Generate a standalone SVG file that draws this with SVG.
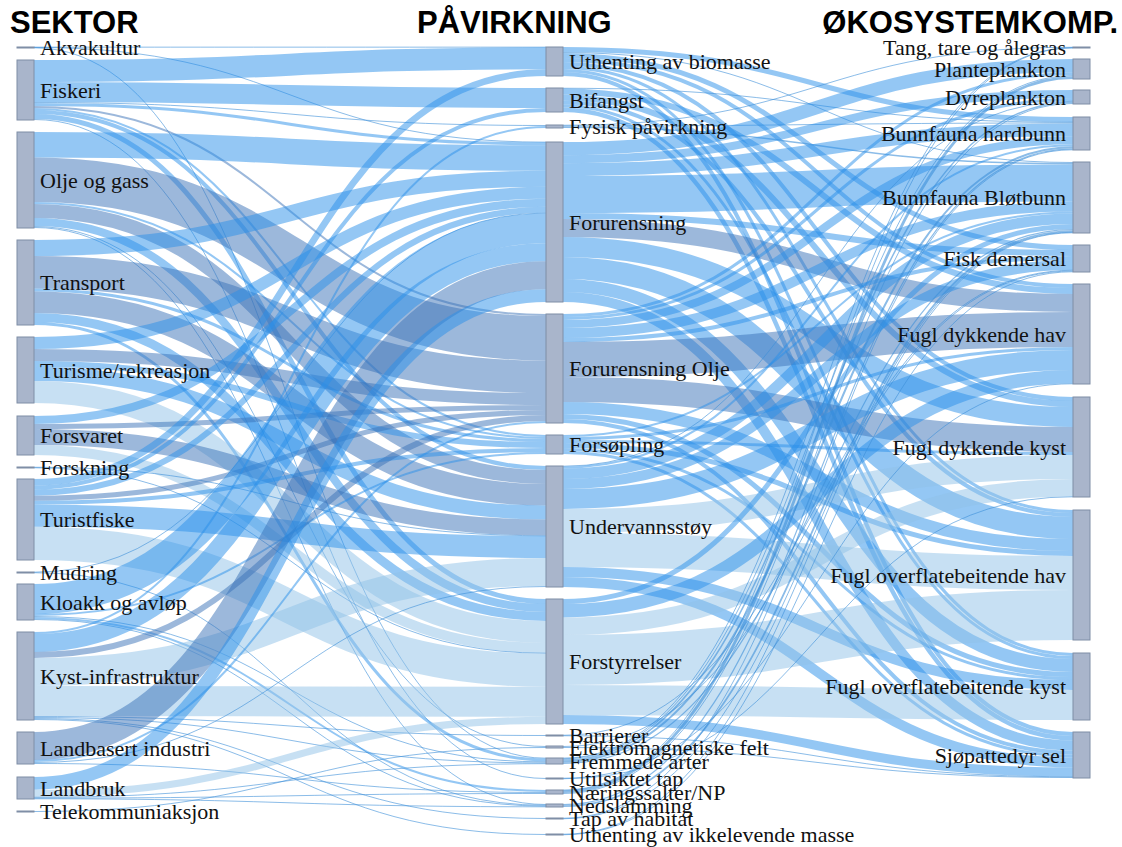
<svg xmlns="http://www.w3.org/2000/svg" width="1122" height="847" viewBox="0 0 1122 847">
<style>
.n rect{fill:#a9b5cb;stroke:#7f8ea6;stroke-width:1}
#links path{fill:none}
.a{stroke:#2a90ea;stroke-opacity:.5}
.b{stroke:#3a72b8;stroke-opacity:.5}
.c{stroke:#8fc2e8;stroke-opacity:.5}
.t{stroke:#3d8fd8;stroke-opacity:.6}
.lb{font-family:"Liberation Serif","Times New Roman",serif;font-size:22px;fill:#111}
.r{text-anchor:end}
.h{font-family:"Liberation Sans",Arial,sans-serif;font-weight:bold;font-size:31px;fill:#000}
</style>
<rect width="1122" height="847" fill="#fff"/>
<g id="links">
<path class="t" stroke-width="1" d="M34,47.15C290,47.15 290,47.15 546,47.15"/>
<path class="t" stroke-width="1" d="M34,47.45C290,47.45 290,142.15 546,142.15"/>
<path class="t" stroke-width="1" d="M34,47.8C290,47.8 290,758.2 546,758.2"/>
<path class="a" stroke-width="22" d="M34,71C290,71 290,58.3 546,58.3"/>
<path class="a" stroke-width="20" d="M34,92C290,92 290,98 546,98"/>
<path class="t" stroke-width="1" d="M34,102.5C290,102.5 290,125.5 546,125.5"/>
<path class="a" stroke-width="3" d="M34,104.5C290,104.5 290,143.8 546,143.8"/>
<path class="b" stroke-width="2" d="M34,107C290,107 290,315 546,315"/>
<path class="a" stroke-width="2" d="M34,109C290,109 290,436 546,436"/>
<path class="a" stroke-width="4" d="M34,112C290,112 290,468 546,468"/>
<path class="a" stroke-width="5" d="M34,116.5C290,116.5 290,601.5 546,601.5"/>
<path class="t" stroke-width="1" d="M34,119.5C290,119.5 290,778.5 546,778.5"/>
<path class="a" stroke-width="25.5" d="M34,144.75C290,144.75 290,158.05 546,158.05"/>
<path class="b" stroke-width="44.5" d="M34,179.75C290,179.75 290,338.25 546,338.25"/>
<path class="a" stroke-width="2" d="M34,203C290,203 290,438 546,438"/>
<path class="b" stroke-width="14" d="M34,211C290,211 290,477 546,477"/>
<path class="a" stroke-width="8" d="M34,222C290,222 290,608 546,608"/>
<path class="t" stroke-width="1" d="M34,226.5C290,226.5 290,746.5 546,746.5"/>
<path class="t" stroke-width="1" d="M34,227.5C290,227.5 290,804.5 546,804.5"/>
<path class="a" stroke-width="16" d="M34,248C290,248 290,178.8 546,178.8"/>
<path class="b" stroke-width="32.5" d="M34,272.25C290,272.25 290,376.75 546,376.75"/>
<path class="a" stroke-width="3" d="M34,290C290,290 290,440.5 546,440.5"/>
<path class="b" stroke-width="21.5" d="M34,302.25C290,302.25 290,494.75 546,494.75"/>
<path class="a" stroke-width="9" d="M34,317.5C290,317.5 290,616.5 546,616.5"/>
<path class="a" stroke-width="3" d="M34,323.5C290,323.5 290,759.9 546,759.9"/>
<path class="a" stroke-width="12" d="M34,343C290,343 290,192.8 546,192.8"/>
<path class="b" stroke-width="12" d="M34,355C290,355 290,399 546,399"/>
<path class="a" stroke-width="6" d="M34,364C290,364 290,445 546,445"/>
<path class="a" stroke-width="14" d="M34,374C290,374 290,512.5 546,512.5"/>
<path class="c" stroke-width="22" d="M34,392C290,392 290,632 546,632"/>
<path class="a" stroke-width="8" d="M34,420C290,420 290,202.8 546,202.8"/>
<path class="b" stroke-width="5" d="M34,426.5C290,426.5 290,407.5 546,407.5"/>
<path class="b" stroke-width="16" d="M34,437C290,437 290,527.5 546,527.5"/>
<path class="c" stroke-width="10" d="M34,450C290,450 290,648 546,648"/>
<path class="t" stroke-width="1" d="M34,467.25C290,467.25 290,535.75 546,535.75"/>
<path class="t" stroke-width="1" d="M34,467.75C290,467.75 290,653.25 546,653.25"/>
<path class="a" stroke-width="6.7" d="M34,482.35C290,482.35 290,72.65 546,72.65"/>
<path class="a" stroke-width="4" d="M34,487.7C290,487.7 290,110 546,110"/>
<path class="a" stroke-width="6" d="M34,492.7C290,492.7 290,209.8 546,209.8"/>
<path class="b" stroke-width="5" d="M34,498.2C290,498.2 290,412.5 546,412.5"/>
<path class="a" stroke-width="4" d="M34,502.7C290,502.7 290,450 546,450"/>
<path class="a" stroke-width="22" d="M34,515.7C290,515.7 290,547 546,547"/>
<path class="c" stroke-width="33.3" d="M34,543.35C290,543.35 290,670.15 546,670.15"/>
<path class="t" stroke-width="1" d="M34,572.2C290,572.2 290,213 546,213"/>
<path class="t" stroke-width="1" d="M34,572.7C290,572.7 290,805.3 546,805.3"/>
<path class="a" stroke-width="30" d="M34,599C290,599 290,228.2 546,228.2"/>
<path class="a" stroke-width="2" d="M34,615C290,615 290,453 546,453"/>
<path class="t" stroke-width="1" d="M34,616.5C290,616.5 290,761.9 546,761.9"/>
<path class="a" stroke-width="2" d="M34,618C290,618 290,791 546,791"/>
<path class="t" stroke-width="1" d="M34,619.5C290,619.5 290,806.1 546,806.1"/>
<path class="a" stroke-width="2" d="M34,633C290,633 290,127 546,127"/>
<path class="a" stroke-width="18" d="M34,643C290,643 290,252.2 546,252.2"/>
<path class="b" stroke-width="6" d="M34,655C290,655 290,418 546,418"/>
<path class="c" stroke-width="28" d="M34,672C290,672 290,572 546,572"/>
<path class="c" stroke-width="30" d="M34,701C290,701 290,701.8 546,701.8"/>
<path class="t" stroke-width="1" d="M34,716.5C290,716.5 290,735.5 546,735.5"/>
<path class="t" stroke-width="1" d="M34,717.5C290,717.5 290,762.9 546,762.9"/>
<path class="t" stroke-width="1" d="M34,718.5C290,718.5 290,818.5 546,818.5"/>
<path class="t" stroke-width="1" d="M34,719.5C290,719.5 290,834.5 546,834.5"/>
<path class="b" stroke-width="28" d="M34,746C290,746 290,275.2 546,275.2"/>
<path class="a" stroke-width="2" d="M34,761C290,761 290,422 546,422"/>
<path class="t" stroke-width="1" d="M34,762.5C290,762.5 290,586.5 546,586.5"/>
<path class="t" stroke-width="1" d="M34,763.5C290,763.5 290,792.5 546,792.5"/>
<path class="a" stroke-width="12.8" d="M34,783.4C290,783.4 290,295.6 546,295.6"/>
<path class="c" stroke-width="7.2" d="M34,793.4C290,793.4 290,720.4 546,720.4"/>
<path class="t" stroke-width="1" d="M34,797.3C290,797.3 290,763.7 546,763.7"/>
<path class="t" stroke-width="1" d="M34,798.1C290,798.1 290,793.5 546,793.5"/>
<path class="t" stroke-width="1" d="M34,798.8C290,798.8 290,806.8 546,806.8"/>
<path class="t" stroke-width="1" d="M34,811.5C290,811.5 290,747.5 546,747.5"/>

<path class="a" stroke-width="5" d="M563,49.5C818,49.5 818,119.5 1073,119.5"/>
<path class="t" stroke-width="1" d="M563,52.5C818,52.5 818,162.5 1073,162.5"/>
<path class="a" stroke-width="5" d="M563,55.5C818,55.5 818,247.5 1073,247.5"/>
<path class="a" stroke-width="4" d="M563,60C818,60 818,286 1073,286"/>
<path class="a" stroke-width="4" d="M563,64C818,64 818,399 1073,399"/>
<path class="a" stroke-width="3" d="M563,67.5C818,67.5 818,511.5 1073,511.5"/>
<path class="a" stroke-width="3" d="M563,70.5C818,70.5 818,654.5 1073,654.5"/>
<path class="a" stroke-width="4" d="M563,74C818,74 818,734 1073,734"/>
<path class="t" stroke-width="1" d="M563,88.25C818,88.25 818,122.25 1073,122.25"/>
<path class="a" stroke-width="6" d="M563,91.5C818,91.5 818,291 1073,291"/>
<path class="a" stroke-width="6" d="M563,97.5C818,97.5 818,404 1073,404"/>
<path class="a" stroke-width="4" d="M563,102.5C818,102.5 818,515 1073,515"/>
<path class="a" stroke-width="3" d="M563,106C818,106 818,657.5 1073,657.5"/>
<path class="a" stroke-width="4.5" d="M563,109.75C818,109.75 818,738.25 1073,738.25"/>
<path class="t" stroke-width="1" d="M563,125.25C818,125.25 818,47.25 1073,47.25"/>
<path class="t" stroke-width="1" d="M563,126C818,126 818,123 1073,123"/>
<path class="t" stroke-width="1.5" d="M563,127.25C818,127.25 818,163.75 1073,163.75"/>
<path class="a" stroke-width="13.2" d="M563,148.6C818,148.6 818,65.6 1073,65.6"/>
<path class="a" stroke-width="8" d="M563,159.2C818,159.2 818,94 1073,94"/>
<path class="a" stroke-width="12.8" d="M563,169.6C818,169.6 818,129.9 1073,129.9"/>
<path class="a" stroke-width="37" d="M563,194.5C818,194.5 818,183 1073,183"/>
<path class="a" stroke-width="6" d="M563,216C818,216 818,253 1073,253"/>
<path class="b" stroke-width="18" d="M563,228C818,228 818,303 1073,303"/>
<path class="a" stroke-width="20" d="M563,247C818,247 818,417 1073,417"/>
<path class="a" stroke-width="22" d="M563,268C818,268 818,528 1073,528"/>
<path class="a" stroke-width="13" d="M563,285.5C818,285.5 818,665.5 1073,665.5"/>
<path class="a" stroke-width="10" d="M563,297C818,297 818,745.5 1073,745.5"/>
<path class="a" stroke-width="3" d="M563,315.5C818,315.5 818,73.7 1073,73.7"/>
<path class="a" stroke-width="3" d="M563,318.5C818,318.5 818,99.5 1073,99.5"/>
<path class="a" stroke-width="8" d="M563,324C818,324 818,140.3 1073,140.3"/>
<path class="a" stroke-width="10" d="M563,333C818,333 818,206.5 1073,206.5"/>
<path class="a" stroke-width="4" d="M563,340C818,340 818,258 1073,258"/>
<path class="b" stroke-width="35" d="M563,359.5C818,359.5 818,329.5 1073,329.5"/>
<path class="b" stroke-width="25" d="M563,389.5C818,389.5 818,439.5 1073,439.5"/>
<path class="a" stroke-width="12" d="M563,408C818,408 818,545 1073,545"/>
<path class="a" stroke-width="5" d="M563,416.5C818,416.5 818,674.5 1073,674.5"/>
<path class="a" stroke-width="4" d="M563,421C818,421 818,752.5 1073,752.5"/>
<path class="a" stroke-width="2" d="M563,436C818,436 818,212.5 1073,212.5"/>
<path class="a" stroke-width="3" d="M563,438.5C818,438.5 818,348.5 1073,348.5"/>
<path class="a" stroke-width="3" d="M563,441.5C818,441.5 818,453.5 1073,453.5"/>
<path class="a" stroke-width="5" d="M563,445.5C818,445.5 818,553.5 1073,553.5"/>
<path class="a" stroke-width="3" d="M563,449.5C818,449.5 818,678.5 1073,678.5"/>
<path class="a" stroke-width="3" d="M563,452.5C818,452.5 818,756 1073,756"/>
<path class="t" stroke-width="1" d="M563,466.25C818,466.25 818,101.25 1073,101.25"/>
<path class="a" stroke-width="2" d="M563,467.5C818,467.5 818,145.3 1073,145.3"/>
<path class="a" stroke-width="10.5" d="M563,473.75C818,473.75 818,218.75 1073,218.75"/>
<path class="a" stroke-width="10" d="M563,484C818,484 818,265 1073,265"/>
<path class="a" stroke-width="20" d="M563,499C818,499 818,360 1073,360"/>
<path class="c" stroke-width="24" d="M563,521C818,521 818,467 1073,467"/>
<path class="c" stroke-width="34" d="M563,550C818,550 818,573 1073,573"/>
<path class="a" stroke-width="10" d="M563,572C818,572 818,685 1073,685"/>
<path class="a" stroke-width="10" d="M563,582C818,582 818,762.5 1073,762.5"/>
<path class="a" stroke-width="5" d="M563,601.5C818,601.5 818,226.5 1073,226.5"/>
<path class="a" stroke-width="13.5" d="M563,610.75C818,610.75 818,376.75 1073,376.75"/>
<path class="c" stroke-width="17.5" d="M563,626.25C818,626.25 818,487.75 1073,487.75"/>
<path class="c" stroke-width="50" d="M563,660C818,660 818,615 1073,615"/>
<path class="c" stroke-width="30" d="M563,700C818,700 818,705 1073,705"/>
<path class="a" stroke-width="9" d="M563,719.5C818,719.5 818,772 1073,772"/>
<path class="t" stroke-width="1" d="M563,735.25C818,735.25 818,270.25 1073,270.25"/>
<path class="t" stroke-width="1" d="M563,735.75C818,735.75 818,776.75 1073,776.75"/>
<path class="t" stroke-width="1" d="M563,746.5C818,746.5 818,271 1073,271"/>
<path class="t" stroke-width="1" d="M563,747.5C818,747.5 818,777.5 1073,777.5"/>
<path class="t" stroke-width="1" d="M563,758.15C818,758.15 818,47.65 1073,47.65"/>
<path class="t" stroke-width="1" d="M563,758.8C818,758.8 818,75.7 1073,75.7"/>
<path class="t" stroke-width="1.5" d="M563,760.05C818,760.05 818,102.25 1073,102.25"/>
<path class="t" stroke-width="2" d="M563,761.8C818,761.8 818,147.3 1073,147.3"/>
<path class="t" stroke-width="1.2" d="M563,763.4C818,763.4 818,229.6 1073,229.6"/>
<path class="t" stroke-width="1" d="M563,778.25C818,778.25 818,383.75 1073,383.75"/>
<path class="t" stroke-width="1" d="M563,778.75C818,778.75 818,496.75 1073,496.75"/>
<path class="t" stroke-width="1" d="M563,790.1C818,790.1 818,47.9 1073,47.9"/>
<path class="t" stroke-width="2.8" d="M563,791.6C818,791.6 818,77.6 1073,77.6"/>
<path class="t" stroke-width="1" d="M563,793.5C818,793.5 818,103.5 1073,103.5"/>
<path class="t" stroke-width="1.2" d="M563,804.6C818,804.6 818,148.9 1073,148.9"/>
<path class="t" stroke-width="1.8" d="M563,806.1C818,806.1 818,231.1 1073,231.1"/>
<path class="t" stroke-width="1" d="M563,818.25C818,818.25 818,149.75 1073,149.75"/>
<path class="t" stroke-width="1" d="M563,818.75C818,818.75 818,232.25 1073,232.25"/>
<path class="t" stroke-width="1" d="M563,834.25C818,834.25 818,232.75 1073,232.75"/>
<path class="t" stroke-width="1" d="M563,834.75C818,834.75 818,271.75 1073,271.75"/>
</g>

<g id="headers">
<text class="h" x="10" y="33">SEKTOR</text>
<text class="h" x="417" y="33">PÅVIRKNING</text>
<text class="h" x="1118" y="33" text-anchor="end">ØKOSYSTEMKOMP.</text>
</g>

<g id="n-akvakultur" class="n"><rect x="17" y="47" width="17" height="1"/><text class="lb" x="40" y="47.5" dy=".35em">Akvakultur</text></g>
<g id="n-fiskeri" class="n"><rect x="17" y="60" width="17" height="60"/><text class="lb" x="40" y="90" dy=".35em">Fiskeri</text></g>
<g id="n-olje" class="n"><rect x="17" y="132" width="17" height="96"/><text class="lb" x="40" y="180" dy=".35em">Olje og gass</text></g>
<g id="n-transport" class="n"><rect x="17" y="240" width="17" height="85"/><text class="lb" x="40" y="282.5" dy=".35em">Transport</text></g>
<g id="n-turisme" class="n"><rect x="17" y="337" width="17" height="66"/><text class="lb" x="40" y="370" dy=".35em">Turisme/rekreasjon</text></g>
<g id="n-forsvaret" class="n"><rect x="17" y="416" width="17" height="39"/><text class="lb" x="40" y="435.5" dy=".35em">Forsvaret</text></g>
<g id="n-forskning" class="n"><rect x="17" y="467" width="17" height="1"/><text class="lb" x="40" y="467.5" dy=".35em">Forskning</text></g>
<g id="n-turistfiske" class="n"><rect x="17" y="479" width="17" height="81"/><text class="lb" x="40" y="519.5" dy=".35em">Turistfiske</text></g>
<g id="n-mudring" class="n"><rect x="17" y="572" width="17" height="1"/><text class="lb" x="40" y="572.5" dy=".35em">Mudring</text></g>
<g id="n-kloakk" class="n"><rect x="17" y="584" width="17" height="36"/><text class="lb" x="40" y="602" dy=".35em">Kloakk og avløp</text></g>
<g id="n-kyst" class="n"><rect x="17" y="632" width="17" height="88"/><text class="lb" x="40" y="676" dy=".35em">Kyst-infrastruktur</text></g>
<g id="n-landbasert" class="n"><rect x="17" y="732" width="17" height="32"/><text class="lb" x="40" y="748" dy=".35em">Landbasert industri</text></g>
<g id="n-landbruk" class="n"><rect x="17" y="777" width="17" height="22"/><text class="lb" x="40" y="788" dy=".35em">Landbruk</text></g>
<g id="n-telekom" class="n"><rect x="17" y="811" width="17" height="1"/><text class="lb" x="40" y="811.5" dy=".35em">Telekommuniaksjon</text></g>

<g id="n-uthenting-bio" class="n"><rect x="546" y="47" width="17" height="29"/><text class="lb" x="569" y="61.5" dy=".35em">Uthenting av biomasse</text></g>
<g id="n-bifangst" class="n"><rect x="546" y="88" width="17" height="24"/><text class="lb" x="569" y="100" dy=".35em">Bifangst</text></g>
<g id="n-fysisk" class="n"><rect x="546" y="125" width="17" height="3"/><text class="lb" x="569" y="126.5" dy=".35em">Fysisk påvirkning</text></g>
<g id="n-forurensning" class="n"><rect x="546" y="142" width="17" height="160"/><text class="lb" x="569" y="222" dy=".35em">Forurensning</text></g>
<g id="n-forurensning-olje" class="n"><rect x="546" y="314" width="17" height="109"/><text class="lb" x="569" y="368.5" dy=".35em">Forurensning Olje</text></g>
<g id="n-forsopling" class="n"><rect x="546" y="435" width="17" height="19"/><text class="lb" x="569" y="444.5" dy=".35em">Forsøpling</text></g>
<g id="n-undervannsstoy" class="n"><rect x="546" y="466" width="17" height="121"/><text class="lb" x="569" y="526.5" dy=".35em">Undervannsstøy</text></g>
<g id="n-forstyrrelser" class="n"><rect x="546" y="599" width="17" height="125"/><text class="lb" x="569" y="661.5" dy=".35em">Forstyrrelser</text></g>
<g id="n-barrierer" class="n"><rect x="546" y="735" width="17" height="1"/><text class="lb" x="569" y="735.5" dy=".35em">Barrierer</text></g>
<g id="n-elektro" class="n"><rect x="546" y="746" width="17" height="2"/><text class="lb" x="569" y="747" dy=".35em">Elektromagnetiske felt</text></g>
<g id="n-fremmede" class="n"><rect x="546" y="758" width="17" height="6"/><text class="lb" x="569" y="761" dy=".35em">Fremmede arter</text></g>
<g id="n-utilsiktet" class="n"><rect x="546" y="778" width="17" height="1"/><text class="lb" x="569" y="778.5" dy=".35em">Utilsiktet tap</text></g>
<g id="n-naering" class="n"><rect x="546" y="790" width="17" height="4"/><text class="lb" x="569" y="792" dy=".35em">Næringssalter/NP</text></g>
<g id="n-nedslamming" class="n"><rect x="546" y="804" width="17" height="3"/><text class="lb" x="569" y="805.5" dy=".35em">Nedslamming</text></g>
<g id="n-tap-habitat" class="n"><rect x="546" y="818" width="17" height="1"/><text class="lb" x="569" y="818.5" dy=".35em">Tap av habitat</text></g>
<g id="n-uthenting-ikke" class="n"><rect x="546" y="834" width="17" height="1"/><text class="lb" x="569" y="834.5" dy=".35em">Uthenting av ikkelevende masse</text></g>

<g id="n-tang" class="n"><rect x="1073" y="47" width="17" height="1"/><text class="lb r" x="1066" y="47.5" dy=".35em">Tang, tare og ålegras</text></g>
<g id="n-planteplankton" class="n"><rect x="1073" y="59" width="17" height="20"/><text class="lb r" x="1066" y="69" dy=".35em">Planteplankton</text></g>
<g id="n-dyreplankton" class="n"><rect x="1073" y="90" width="17" height="14"/><text class="lb r" x="1066" y="97" dy=".35em">Dyreplankton</text></g>
<g id="n-bunn-hard" class="n"><rect x="1073" y="117" width="17" height="33"/><text class="lb r" x="1066" y="133.5" dy=".35em">Bunnfauna hardbunn</text></g>
<g id="n-bunn-blot" class="n"><rect x="1073" y="162" width="17" height="71"/><text class="lb r" x="1066" y="197.5" dy=".35em">Bunnfauna Bløtbunn</text></g>
<g id="n-fisk" class="n"><rect x="1073" y="245" width="17" height="27"/><text class="lb r" x="1066" y="258.5" dy=".35em">Fisk demersal</text></g>
<g id="n-fdh" class="n"><rect x="1073" y="284" width="17" height="100"/><text class="lb r" x="1066" y="334" dy=".35em">Fugl dykkende hav</text></g>
<g id="n-fdk" class="n"><rect x="1073" y="397" width="17" height="100"/><text class="lb r" x="1066" y="447" dy=".35em">Fugl dykkende kyst</text></g>
<g id="n-foh" class="n"><rect x="1073" y="510" width="17" height="130"/><text class="lb r" x="1066" y="575" dy=".35em">Fugl overflatebeitende hav</text></g>
<g id="n-fok" class="n"><rect x="1073" y="653" width="17" height="67"/><text class="lb r" x="1066" y="686.5" dy=".35em">Fugl overflatebeitende kyst</text></g>
<g id="n-sel" class="n"><rect x="1073" y="732" width="17" height="46"/><text class="lb r" x="1066" y="755" dy=".35em">Sjøpattedyr sel</text></g>
</svg>
